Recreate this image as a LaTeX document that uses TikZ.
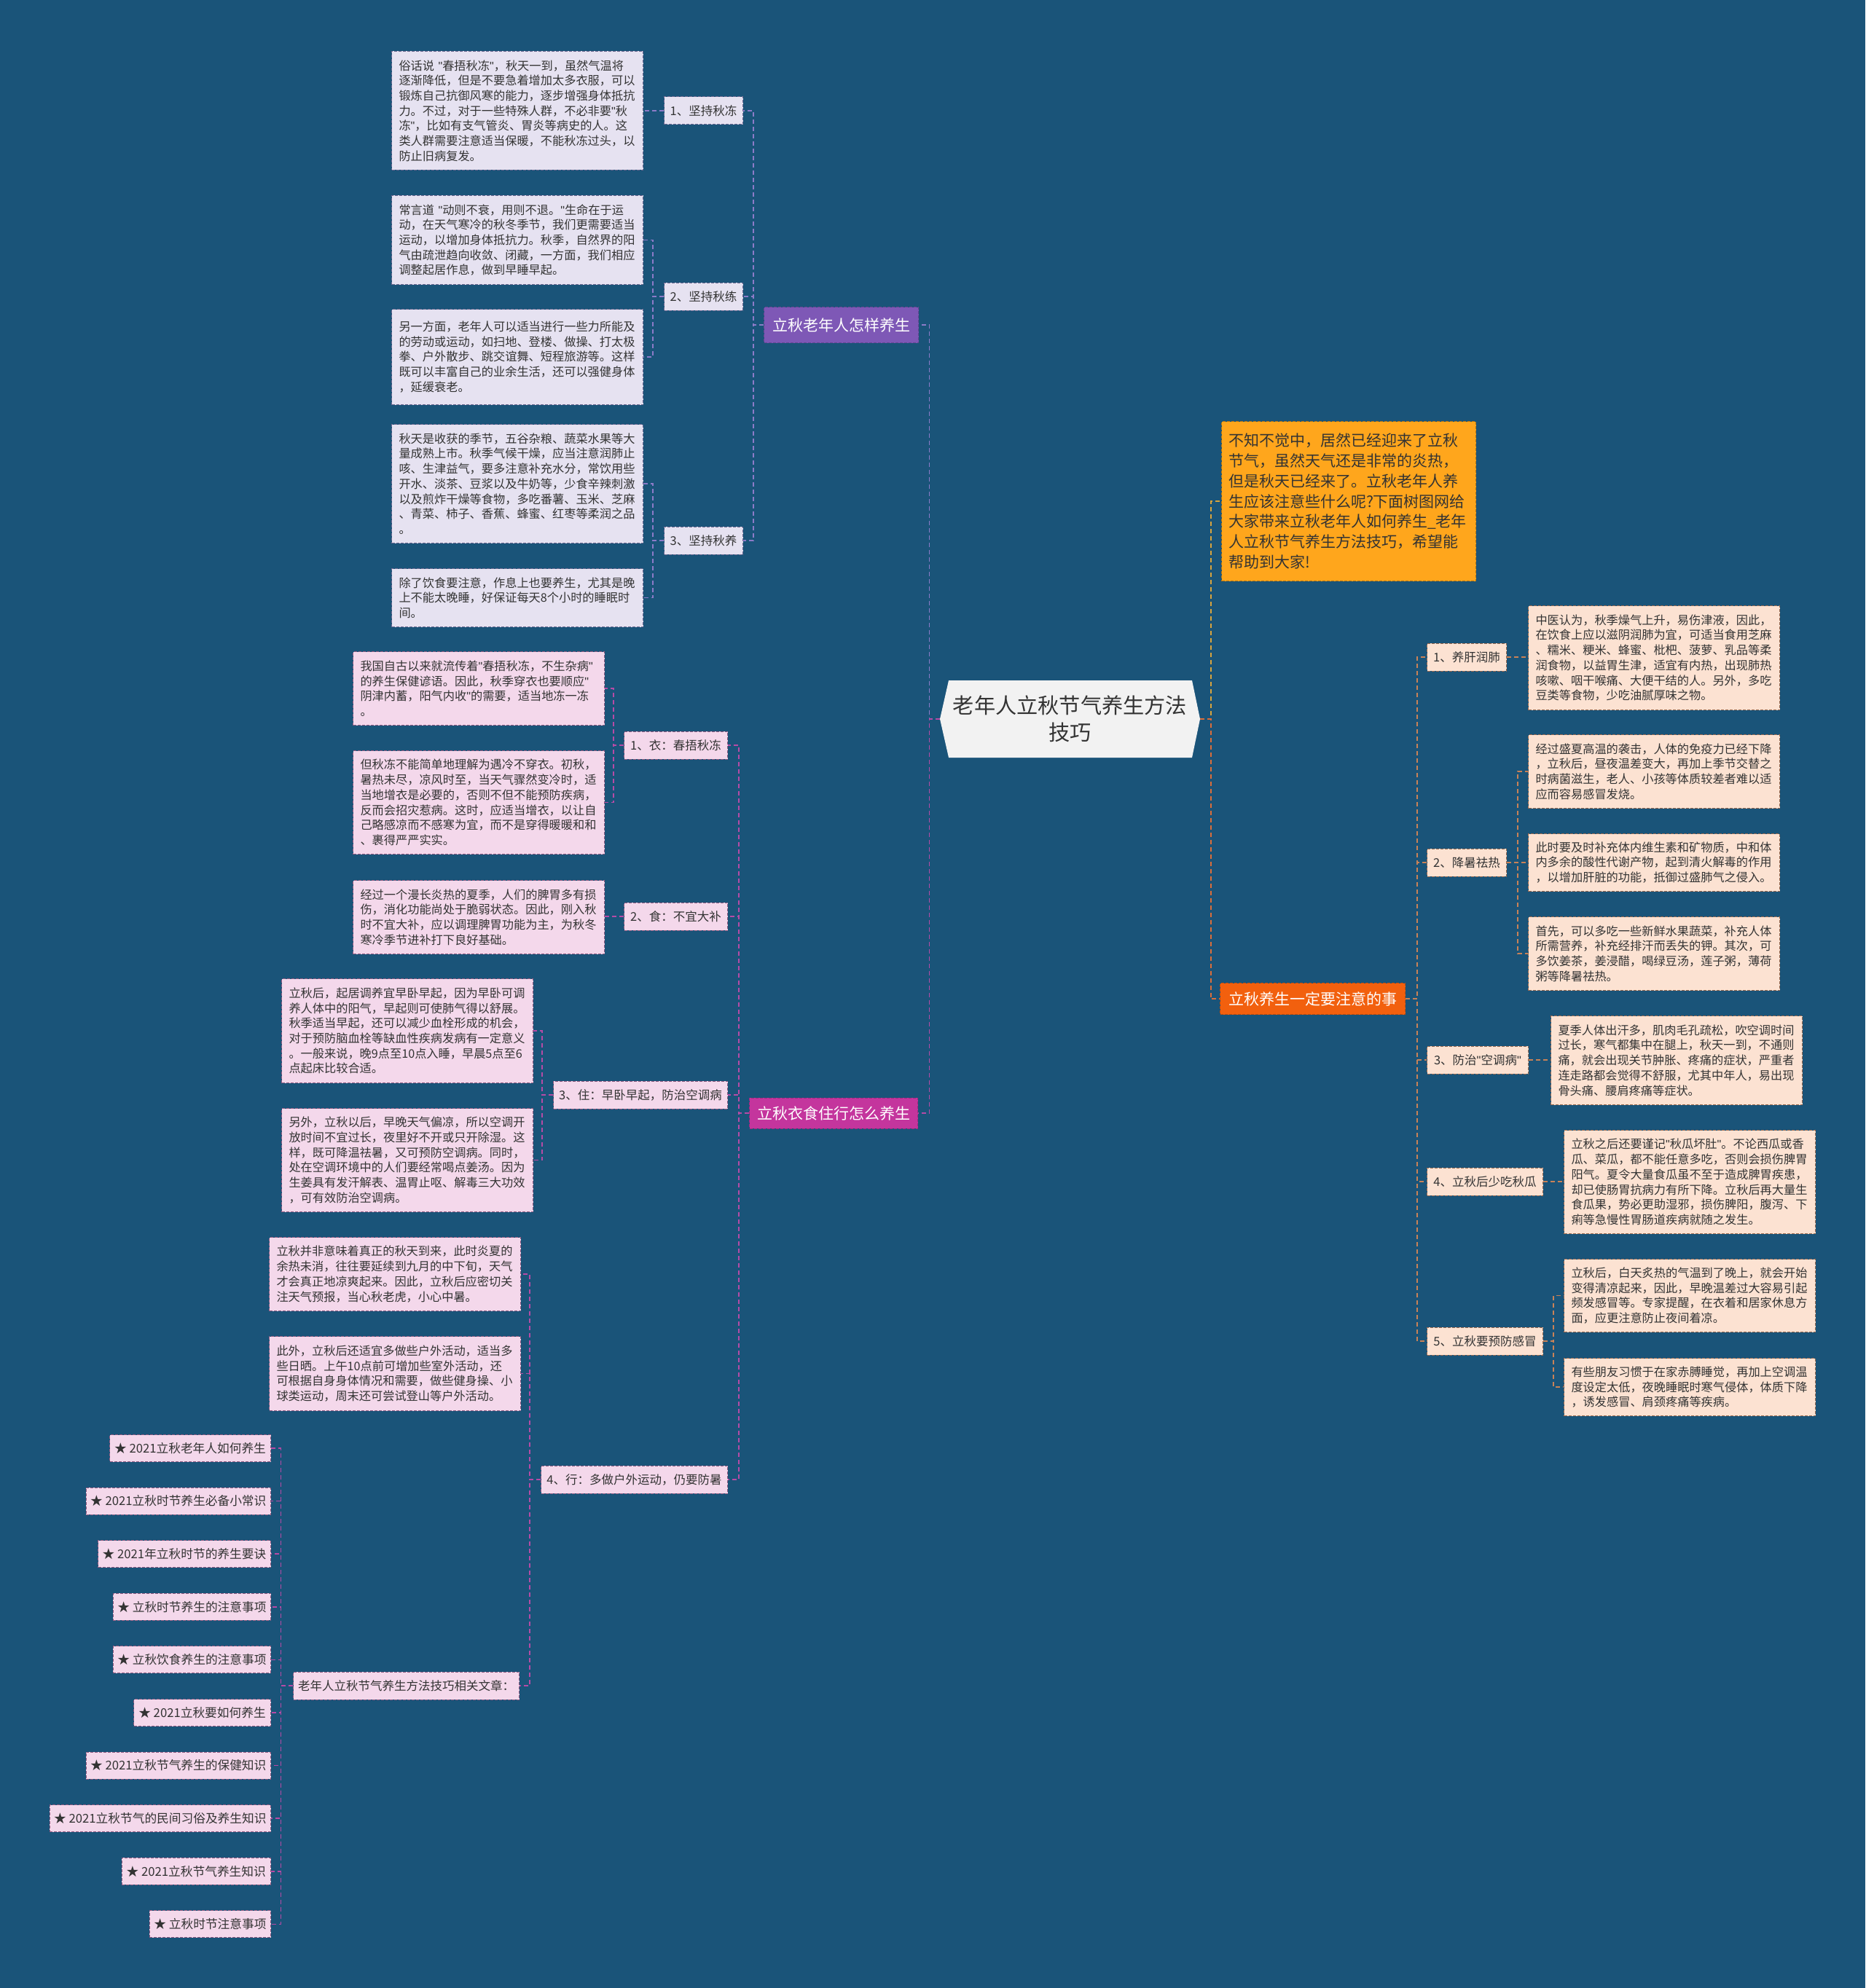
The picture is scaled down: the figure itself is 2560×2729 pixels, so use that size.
\documentclass[tikz,border=0pt]{standalone}
\usepackage{fontspec}
\setmainfont{Noto Sans CJK SC}
\newfontfamily\latinq{Liberation Sans}
\newcommand\dq{{\latinq"}}
\definecolor{bg}{HTML}{1A5479}
\definecolor{txt}{HTML}{333333}
\definecolor{lavf}{HTML}{E6E2F1}
\definecolor{lavd}{HTML}{6C6890}
\definecolor{pinkf}{HTML}{F4D8EB}
\definecolor{pinkd}{HTML}{8E5A80}
\definecolor{peachf}{HTML}{FCE2D2}
\definecolor{peachd}{HTML}{9A6A50}
\definecolor{introf}{HTML}{FFA61C}
\definecolor{purpleh}{HTML}{7E58B6}
\definecolor{magh}{HTML}{C4359D}
\definecolor{redh}{HTML}{F2600E}
\definecolor{ctrf}{HTML}{F2F2F2}
\definecolor{cA}{HTML}{8C7BC8}
\definecolor{cB}{HTML}{B64BA6}
\definecolor{cY}{HTML}{D9A43E}
\definecolor{cO}{HTML}{DC6E3A}
\definecolor{cR}{HTML}{C98257}
\begin{document}
\begin{tikzpicture}[x=0.5pt,y=-0.5pt,
  tbox/.style={anchor=north west, draw, dash pattern=on 2pt off 1pt, line width=0.5pt,
    minimum width=172.5pt, text width=162.5pt, inner xsep=5pt, inner ysep=0pt,
    align=left, font=\fontsize{8.1pt}{10.35pt}\selectfont, text=txt},
  lbox/.style={tbox, fill=lavf, draw=lavd},
  pbox/.style={tbox, fill=pinkf, draw=pinkd},
  obox/.style={tbox, fill=peachf, draw=peachd},
  lab/.style={draw, dash pattern=on 2pt off 1pt, line width=0.5pt, minimum height=19pt,
    inner xsep=3pt, inner ysep=0pt, font=\fontsize{8.25pt}{10pt}\selectfont, text=txt},
  labA/.style={lab, fill=lavf, draw=lavd, anchor=east, minimum width=54pt},
  labB/.style={lab, fill=pinkf, draw=pinkd, anchor=east},
  labC/.style={lab, fill=peachf, draw=peachd, anchor=west},
  lnk/.style={lab, fill=pinkf, draw=pinkd, anchor=east, minimum height=18.5pt, font=\fontsize{8.35pt}{10pt}\selectfont},
  hd/.style={draw, dash pattern=on 2pt off 1pt, line width=0.5pt, minimum height=23pt, inner xsep=5pt,
    inner ysep=0pt, font=\fontsize{10.5pt}{12pt}\selectfont, text=white},
  con/.style={dash pattern=on 3pt off 2pt, line width=0.75pt},
  conA/.style={con, draw=cA}, conB/.style={con, draw=cB}, conY/.style={con, draw=cY},
  conO/.style={con, draw=cO}, conR/.style={con, draw=cR}]
\useasboundingbox (0,0) rectangle (2560,2729);
\fill[bg] (0,0) rectangle (2560,2729);

% ---------- centre ----------
\fill[ctrf] (1290,987) -- (1302,934) -- (1636,934) -- (1647,987) -- (1636,1040) -- (1302,1040) -- cycle;
\node[minimum width=178.5pt, minimum height=53pt, inner sep=0pt, align=center, text=txt,
  font=\fontsize{14.6pt}{18.5pt}\selectfont] (ctr) at (1468.5,987) {老年人立秋节气养生方法\\技巧};

% ---------- headings ----------
\node[hd, fill=purpleh, draw=purpleh!80!black, anchor=east, minimum width=106pt, minimum height=24.5pt] (H1) at (1261,446) {立秋老年人怎样养生};
\node[hd, fill=magh, draw=magh!80!black, anchor=east, minimum width=115.5pt, minimum height=21pt] (H2) at (1260,1528) {立秋衣食住行怎么养生};
\node[hd, fill=redh, draw=redh!80!black, anchor=west, minimum width=127pt, minimum height=21.5pt] (H3) at (1674,1371) {立秋养生一定要注意的事};

\node[anchor=north west, fill=introf, draw=introf!70!black, dash pattern=on 2pt off 1pt, line width=0.5pt,
  minimum width=174.5pt, minimum height=109.5pt, text width=165pt, inner xsep=4.75pt, inner ysep=0pt,
  align=left, font=\fontsize{10.5pt}{13.85pt}\selectfont, text=black!80] (intro) at (1676,578)
 {不知不觉中，居然已经迎来了立秋\\节气，虽然天气还是非常的炎热，\\但是秋天已经来了。立秋老年人养\\生应该注意些什么呢?下面树图网给\\大家带来立秋老年人如何养生\_老年\\人立秋节气养生方法技巧，希望能\\帮助到大家!};

% ---------- branch 1 ----------
\node[labA] (A1) at (1020,152) {1、坚持秋冻};
\node[labA] (A2) at (1020,407) {2、坚持秋练};
\node[labA] (A3) at (1020,742) {3、坚持秋养};

\node[lbox, minimum height=81.5pt] (bx1) at (537,70)
 {俗话说~\dq 春捂秋冻\dq，秋天一到，虽然气温将\\逐渐降低，但是不要急着增加太多衣服，可以\\锻炼自己抗御风寒的能力，逐步增强身体抵抗\\力。不过，对于一些特殊人群，不必非要\dq 秋\\冻\dq，比如有支气管炎、胃炎等病史的人。这\\类人群需要注意适当保暖，不能秋冻过头，以\\防止旧病复发。};
\node[lbox, minimum height=61pt] (bx2) at (537,268)
 {常言道~\dq 动则不衰，用则不退。\dq 生命在于运\\动，在天气寒冷的秋冬季节，我们更需要适当\\运动，以增加身体抵抗力。秋季，自然界的阳\\气由疏泄趋向收敛、闭藏，一方面，我们相应\\调整起居作息，做到早睡早起。};
\node[lbox, minimum height=65.5pt] (bx3) at (537,424)
 {另一方面，老年人可以适当进行一些力所能及\\的劳动或运动，如扫地、登楼、做操、打太极\\拳、户外散步、跳交谊舞、短程旅游等。这样\\既可以丰富自己的业余生活，还可以强健身体\\，延缓衰老。};
\node[lbox, minimum height=81.5pt] (bx4) at (537,582)
 {秋天是收获的季节，五谷杂粮、蔬菜水果等大\\量成熟上市。秋季气候干燥，应当注意润肺止\\咳、生津益气，要多注意补充水分，常饮用些\\开水、淡茶、豆浆以及牛奶等，少食辛辣刺激\\以及煎炸干燥等食物，多吃番薯、玉米、芝麻\\、青菜、柿子、香蕉、蜂蜜、红枣等柔润之品\\。};
\node[lbox, minimum height=40pt] (bx5) at (537,780)
 {除了饮食要注意，作息上也要养生，尤其是晚\\上不能太晚睡，好保证每天8个小时的睡眠时\\间。};

% ---------- branch 2 ----------
\node[labB, minimum width=71pt] (B1) at (999,1023) {1、衣：春捂秋冻};
\node[labB, minimum width=71pt] (B2) at (999,1258) {2、食：不宜大补};
\node[labB, minimum width=119.5pt] (B3) at (999,1503) {3、住：早卧早起，防治空调病};
\node[labB, minimum width=128pt] (B4) at (999,2031) {4、行：多做户外运动，仍要防暑};
\node[labB, minimum width=155pt] (Rel) at (713,2314) {老年人立秋节气养生方法技巧相关文章：};

\node[pbox, minimum height=50.5pt] (bxE) at (484,894)
 {我国自古以来就流传着\dq 春捂秋冻，不生杂病\dq\\的养生保健谚语。因此，秋季穿衣也要顺应\dq\\阴津内蓄，阳气内收\dq 的需要，适当地冻一冻\\。};
\node[pbox, minimum height=71pt] (bxF) at (484,1030)
 {但秋冻不能简单地理解为遇冷不穿衣。初秋，\\暑热未尽，凉风时至，当天气骤然变冷时，适\\当地增衣是必要的，否则不但不能预防疾病，\\反而会招灾惹病。这时，应适当增衣，以让自\\己略感凉而不感寒为宜，而不是穿得暖暖和和\\、裹得严严实实。};
\node[pbox, minimum height=50.5pt] (bxG) at (484,1208)
 {经过一个漫长炎热的夏季，人们的脾胃多有损\\伤，消化功能尚处于脆弱状态。因此，刚入秋\\时不宜大补，应以调理脾胃功能为主，为秋冬\\寒冷季节进补打下良好基础。};
\node[pbox, minimum height=71.5pt] (bxC) at (386,1343)
 {立秋后，起居调养宜早卧早起，因为早卧可调\\养人体中的阳气，早起则可使肺气得以舒展。\\秋季适当早起，还可以减少血栓形成的机会，\\对于预防脑血栓等缺血性疾病发病有一定意义\\。一般来说，晚9点至10点入睡，早晨5点至6\\点起床比较合适。};
\node[pbox, minimum height=71pt] (bxD) at (386,1521)
 {另外，立秋以后，早晚天气偏凉，所以空调开\\放时间不宜过长，夜里好不开或只开除湿。这\\样，既可降温祛暑，又可预防空调病。同时，\\处在空调环境中的人们要经常喝点姜汤。因为\\生姜具有发汗解表、温胃止呕、解毒三大功效\\，可有效防治空调病。};
\node[pbox, minimum height=50.5pt] (bxA) at (369,1698)
 {立秋并非意味着真正的秋天到来，此时炎夏的\\余热未消，往往要延续到九月的中下旬，天气\\才会真正地凉爽起来。因此，立秋后应密切关\\注天气预报，当心秋老虎，小心中暑。};
\node[pbox, minimum height=51pt] (bxB) at (369,1834)
 {此外，立秋后还适宜多做些户外活动，适当多\\些日晒。上午10点前可增加些室外活动，还\\可根据自身身体情况和需要，做些健身操、小\\球类运动，周末还可尝试登山等户外活动。};

\node[lnk, minimum width=110.5pt] (L1) at (372,1988) {★ 2021立秋老年人如何养生};
\node[lnk, minimum width=126.75pt] (L2) at (372,2060.6) {★ 2021立秋时节养生必备小常识};
\node[lnk, minimum width=118.5pt] (L3) at (372,2133.2) {★ 2021年立秋时节的养生要诀};
\node[lnk, minimum width=107.5pt] (L4) at (372,2205.8) {★ 立秋时节养生的注意事项};
\node[lnk, minimum width=107.5pt] (L5) at (372,2278.4) {★ 立秋饮食养生的注意事项};
\node[lnk, minimum width=94pt] (L6) at (372,2351) {★ 2021立秋要如何养生};
\node[lnk, minimum width=126.75pt] (L7) at (372,2423.6) {★ 2021立秋节气养生的保健知识};
\node[lnk, minimum width=151.25pt] (L8) at (372,2496.2) {★ 2021立秋节气的民间习俗及养生知识};
\node[lnk, minimum width=102.25pt] (L9) at (372,2568.8) {★ 2021立秋节气养生知识};
\node[lnk, minimum width=82.7pt] (L10) at (372,2641.4) {★ 立秋时节注意事项};

% ---------- branch 3 ----------
\node[labC, minimum width=54.5pt] (C1) at (1958,902) {1、养肝润肺};
\node[labC, minimum width=54.5pt] (C2) at (1958,1184) {2、降暑祛热};
\node[labC, minimum width=69.5pt] (C3) at (1958,1455) {3、防治\dq 空调病\dq};
\node[labC, minimum width=79.5pt] (C4) at (1958,1622) {4、立秋后少吃秋瓜};
\node[labC, minimum width=79.5pt] (C5) at (1958,1841) {5、立秋要预防感冒};

\node[obox, minimum height=71.5pt] (R1) at (2097,831)
 {中医认为，秋季燥气上升，易伤津液，因此，\\在饮食上应以滋阴润肺为宜，可适当食用芝麻\\、糯米、粳米、蜂蜜、枇杷、菠萝、乳品等柔\\润食物，以益胃生津，适宜有内热，出现肺热\\咳嗽、咽干喉痛、大便干结的人。另外，多吃\\豆类等食物，少吃油腻厚味之物。};
\node[obox, minimum height=50.5pt] (R2a) at (2097,1008)
 {经过盛夏高温的袭击，人体的免疫力已经下降\\，立秋后，昼夜温差变大，再加上季节交替之\\时病菌滋生，老人、小孩等体质较差者难以适\\应而容易感冒发烧。};
\node[obox, minimum height=39.5pt] (R2b) at (2097,1144)
 {此时要及时补充体内维生素和矿物质，中和体\\内多余的酸性代谢产物，起到清火解毒的作用\\，以增加肝脏的功能，抵御过盛肺气之侵入。};
\node[obox, minimum height=50.5pt] (R2c) at (2097,1258)
 {首先，可以多吃一些新鲜水果蔬菜，补充人体\\所需营养，补充经排汗而丢失的钾。其次，可\\多饮姜茶，姜浸醋，喝绿豆汤，莲子粥，薄荷\\粥等降暑祛热。};
\node[obox, minimum height=61pt] (R3) at (2128,1394)
 {夏季人体出汗多，肌肉毛孔疏松，吹空调时间\\过长，寒气都集中在腿上，秋天一到，不通则\\痛，就会出现关节肿胀、疼痛的症状，严重者\\连走路都会觉得不舒服，尤其中年人，易出现\\骨头痛、腰肩疼痛等症状。};
\node[obox, minimum height=71pt] (R4) at (2146,1551)
 {立秋之后还要谨记\dq 秋瓜坏肚\dq。不论西瓜或香\\瓜、菜瓜，都不能任意多吃，否则会损伤脾胃\\阳气。夏令大量食瓜虽不至于造成脾胃疾患，\\却已使肠胃抗病力有所下降。立秋后再大量生\\食瓜果，势必更助湿邪，损伤脾阳，腹泻、下\\痢等急慢性胃肠道疾病就随之发生。};
\node[obox, minimum height=50pt] (R5a) at (2146,1728)
 {立秋后，白天炙热的气温到了晚上，就会开始\\变得清凉起来，因此，早晚温差过大容易引起\\频发感冒等。专家提醒，在衣着和居家休息方\\面，应更注意防止夜间着凉。};
\node[obox, minimum height=39.5pt] (R5b) at (2146,1864)
 {有些朋友习惯于在家赤膊睡觉，再加上空调温\\度设定太低，夜晚睡眠时寒气侵体，体质下降\\，诱发感冒、肩颈疼痛等疾病。};

% ---------- connectors ----------
\draw[conA] (ctr.west) -- ++(-14,0) |- (H1.east);
\draw[conB] (ctr.west) -- ++(-14,0) |- (H2.east);
\draw[conY] (ctr.east) -- ++(14.5,0) |- (intro.west);
\draw[conO] (ctr.east) -- ++(14.5,0) |- (H3.west);

\foreach \n in {A1,A2,A3} \draw[conA] (H1.west) -- ++(-14,0) |- (\n.east);
\draw[conA] (A1.west) -- (A1.west -| bx1.east);
\foreach \n in {bx2,bx3} \draw[conA] (A2.west) -- ++(-15,0) |- (\n.east);
\foreach \n in {bx4,bx5} \draw[conA] (A3.west) -- ++(-15,0) |- (\n.east);

\foreach \n in {B1,B2,B3,B4} \draw[conB] (H2.west) -- ++(-14,0) |- (\n.east);
\foreach \n in {bxE,bxF} \draw[conB] (B1.west) -- ++(-14,0) |- (\n.east);
\draw[conB] (B2.west) -- (B2.west -| bxG.east);
\foreach \n in {bxC,bxD} \draw[conB] (B3.west) -- ++(-15,0) |- (\n.east);
\foreach \n in {bxA,bxB,Rel} \draw[conB] (B4.west) -- ++(-15,0) |- (\n.east);
\foreach \n in {L1,L2,L3,L4,L5,L6,L7,L8,L9,L10} \draw[conB] (Rel.west) -- ++(-16.5,0) |- (\n.east);

\foreach \n in {C1,C2,C3,C4,C5} \draw[conR] (H3.east) -- ++(16,0) |- (\n.west);
\draw[conR] (C1.east) -- (C1.east -| R1.west);
\foreach \n in {R2a,R2b,R2c} \draw[conR] (C2.east) -- ++(15,0) |- (\n.west);
\draw[conR] (C3.east) -- (C3.east -| R3.west);
\draw[conR] (C4.east) -- (C4.east -| R4.west);
\foreach \n in {R5a,R5b} \draw[conR] (C5.east) -- ++(14,0) |- (\n.west);
\end{tikzpicture}
\end{document}
